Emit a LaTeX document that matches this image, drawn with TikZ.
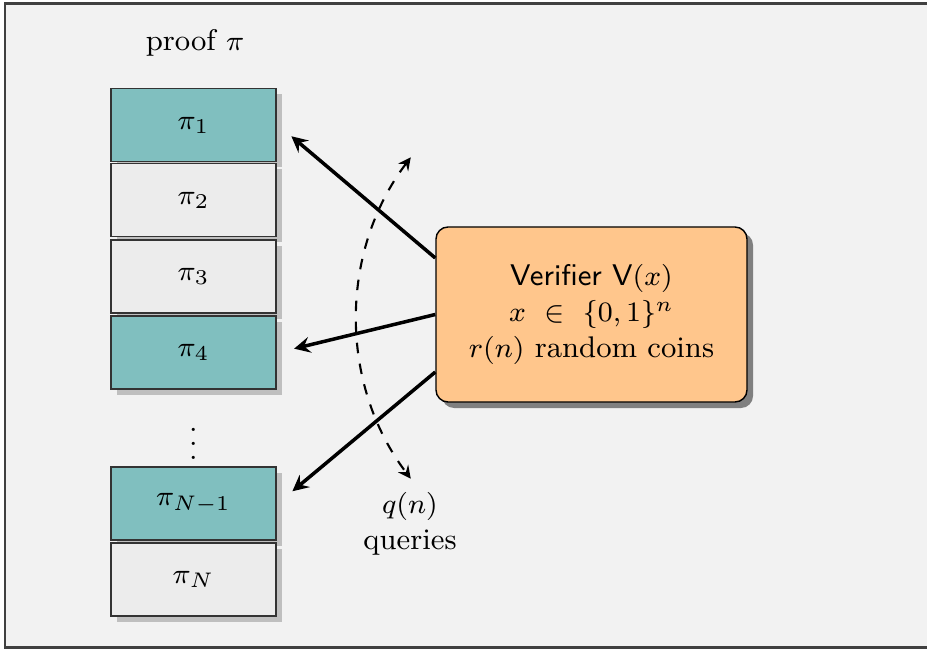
\documentclass[tikz,border=0pt]{standalone}
\usetikzlibrary{shadows}
\begin{document}
\begin{tikzpicture}[>=stealth, font=\fontsize{8.5}{10.2}\selectfont,
	cell/.style={draw=black!80, minimum width=1.65cm, minimum height=0.73cm, inner sep=0pt,
		drop shadow={shadow xshift=0.06cm, shadow yshift=-0.06cm, fill=black!25, opacity=1}},
	cellon/.style={cell, fill=teal!50},
	celloff/.style={cell, fill=gray!15},
	query/.style={line width=1pt, ->, shorten >=1pt},
	verifier/.style={draw=black, fill=orange!45, rounded corners=0.12cm, align=center,
		minimum width=3.11cm, minimum height=1.75cm,
		drop shadow={shadow xshift=0.06cm, shadow yshift=-0.06cm, fill=black!50, opacity=1}}]
	\useasboundingbox (0,0) rectangle (9.27,-6.5);
	\draw[fill=gray!10, draw=black!75, thick] (0.05,-0.035) rectangle (9.35,-6.475);
	% the proof cells
	\foreach \nm/\yy/\lab/\fc in {p1/1.25/1/cellon, p2/2.0/2/celloff, p3/2.765/3/celloff,
		p4/3.525/4/cellon, pN1/5.035/{N-1}/cellon, pN/5.795/N/celloff} {
		\node[\fc] (\nm) at (1.935,-\yy) {$\pi_{\lab}$};
	}
	\node (proof) at (1.95,-0.43) {proof $\pi$};
	\node[inner sep=0pt] (dots) at (1.935,-4.33) {$\vdots$};
	\node[verifier] (ver) at (5.915,-3.145) {\textsf{Verifier V}$(x)$\\ $x\ \in\ \{0,1\}^n$\\ $r(n)$ random coins};
	\draw[query] ([yshift=0.565cm]ver.west) -- ([xshift=0.12cm, yshift=-0.09cm]p1.east);
	\draw[query] (ver.west) -- ([xshift=0.14cm, yshift=0.03cm]p4.east);
	\draw[query] ([yshift=-0.575cm]ver.west) -- ([xshift=0.13cm, yshift=0.1cm]pN1.east);
	% number of queries
	\coordinate (arcc) at (6.24,-3.18);
	\draw[semithick, dashed, <->] ([shift={(143:2.67)}]arcc) arc (143:217:2.67);
	\node[align=center] (qn) at (4.10,-5.24) {$q(n)$\\ queries};
\end{tikzpicture}
\end{document}
